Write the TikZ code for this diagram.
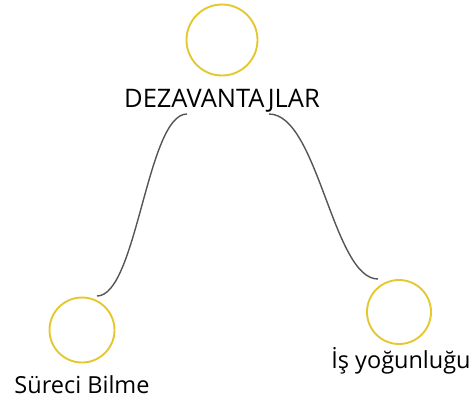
\documentclass[tikz,border=0pt]{standalone}
\usepackage{fontspec}
\setmainfont{Open Sans}
\definecolor{ring}{RGB}{229,200,48}
\definecolor{link}{RGB}{85,85,85}
\tikzset{
  ringnode/.style={circle, draw=ring, line width=1.9pt, inner sep=0pt},
  label/.style={anchor=base, text=black, inner sep=0pt},
  linkline/.style={draw=link, line width=1.4pt},
}
\begin{document}
\begin{tikzpicture}[x=1pt,y=-1pt]
\useasboundingbox (0,0) rectangle (473,400);
% circles
\node[ringnode, minimum size=71pt] (top) at (222,40) {};
\node[ringnode, minimum size=65pt] (left) at (82,330) {};
\node[ringnode, minimum size=64pt] (right) at (399,312) {};
% labels
\node[label, font=\fontsize{25.5}{30}\selectfont] (toplbl) at (222,107) {DEZAVANTAJLAR};
\node[label, font=\fontsize{23.5}{28}\selectfont] (leftlbl) at (82,393) {Süreci Bilme};
\node[label, font=\fontsize{23.5}{28}\selectfont] (rightlbl) at (401,368) {İş yoğunluğu};
% connector ends
\coordinate (ls) at (187,114);
\coordinate (le) at (97,296);
\coordinate (rs) at (269,114);
\coordinate (re) at (378,279);
\draw[linkline] (ls) .. controls (147,114) and (137,296) .. (le);
\draw[linkline] (rs) .. controls (318,114) and (333,279) .. (re);
\end{tikzpicture}
\end{document}
